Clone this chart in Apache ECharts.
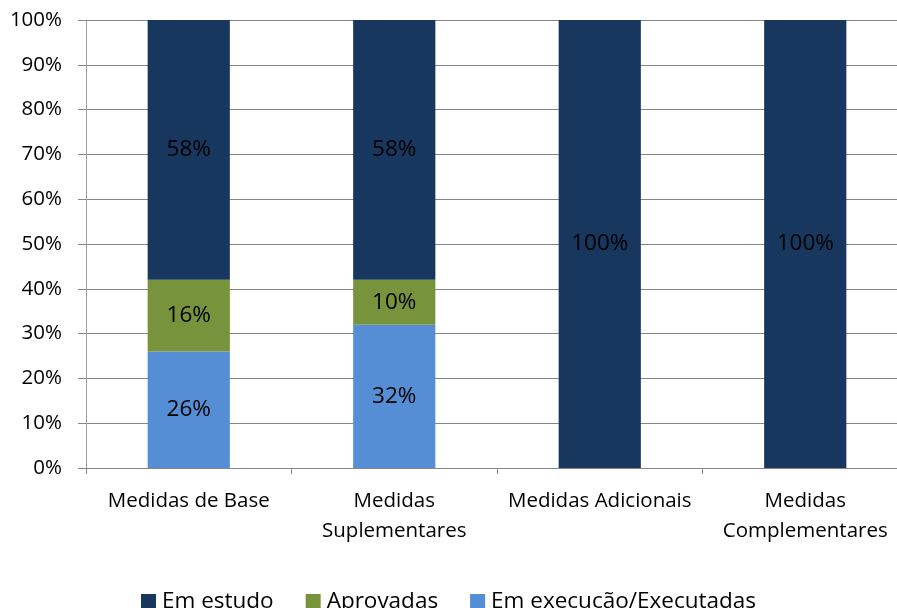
<!DOCTYPE html>
<html>
<head>
<meta charset="utf-8">
<script src="https://cdn.jsdelivr.net/npm/echarts@6/dist/echarts.min.js"></script>
<style>html,body{margin:0;padding:0;background:#fff;overflow:hidden}#c{width:912px;height:608px}</style>
</head>
<body>
<div id="c"></div>
<script>
const categories = ['Medidas de Base', 'Medidas\nSuplementares', 'Medidas Adicionais', 'Medidas\nComplementares'];
const emExecucao = [26, 32, 0, 0];
const aprovadas = [16, 10, 0, 0];
const emEstudo = [58, 58, 100, 100];
const yTicks = [0, 10, 20, 30, 40, 50, 60, 70, 80, 90, 100];

const FONT = '"Open Sans", sans-serif';
const chart = echarts.init(document.getElementById('c'), null, {renderer: 'canvas'});
const lbl = {
  show: true, position: 'inside', color: '#000', fontSize: 22.5, fontFamily: FONT,
  formatter: p => p.value > 0 ? p.value + '%' : ''
};
function mk(name, data, color) {
  return {
    name, type: 'bar', stack: 'total', data, barWidth: '40%',
    itemStyle: {color}, label: lbl, emphasis: {disabled: true}
  };
}
chart.setOption({
  animation: false,
  textStyle: {fontFamily: FONT},
  grid: {left: 86, right: 4, top: 20, height: 448, containLabel: false},
  legend: {
    top: 590, left: 141, itemWidth: 15, itemHeight: 15, itemGap: 32,
    icon: 'rect', padding: 0,
    textStyle: {fontSize: 22.5, lineHeight: 15, color: '#000', fontFamily: FONT, padding: [0, 0, 0, 1]},
    data: ['Em estudo', 'Aprovadas', 'Em execução/Executadas']
  },
  xAxis: {
    type: 'category', data: categories,
    axisLine: {lineStyle: {color: '#868686'}},
    axisTick: {show: true, length: 6, lineStyle: {color: '#868686'}},
    axisLabel: {color: '#000', fontSize: 20.5, fontFamily: FONT, margin: 18, lineHeight: 30, interval: 0}
  },
  yAxis: {
    type: 'value', min: yTicks[0], max: yTicks[yTicks.length - 1], interval: 10,
    axisLine: {show: true, lineStyle: {color: '#A0A0A0'}},
    axisTick: {show: true, length: 8, lineStyle: {color: '#868686'}},
    splitLine: {lineStyle: {color: '#868686'}},
    axisLabel: {color: '#000', fontSize: 20.5, fontFamily: FONT, margin: 24, formatter: v => v + '%'}
  },
  series: [
    mk('Em execução/Executadas', emExecucao, '#558ED5'),
    mk('Aprovadas', aprovadas, '#77933C'),
    mk('Em estudo', emEstudo, '#17375E')
  ]
});
</script>
</body>
</html>
